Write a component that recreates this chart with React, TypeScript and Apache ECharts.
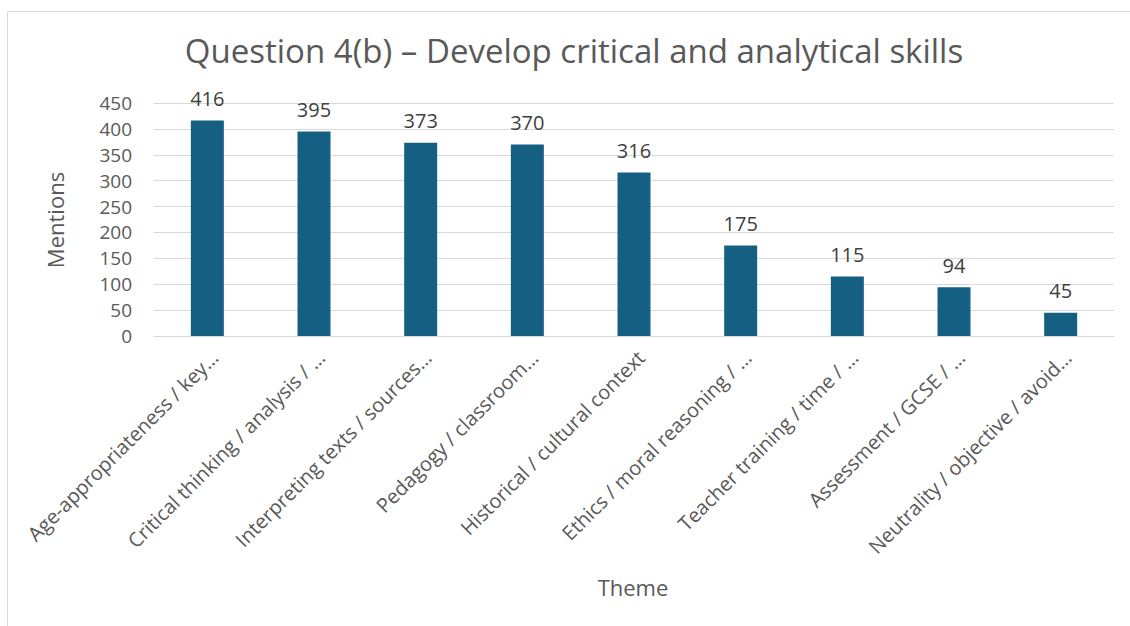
import React, { useEffect, useRef } from "react";
import * as echarts from "echarts";

const categories = [
  "Age-appropriateness / key…",
  "Critical thinking / analysis / …",
  "Interpreting texts / sources…",
  "Pedagogy / classroom…",
  "Historical / cultural context",
  "Ethics / moral reasoning / …",
  "Teacher training / time / …",
  "Assessment / GCSE / …",
  "Neutrality / objective / avoid…",
];
const mentions = [416, 395, 373, 370, 316, 175, 115, 94, 45];
const yTicks = { min: 0, max: 450, interval: 50 };
const titleText = "Question 4(b) – Develop critical and analytical skills";
const xName = "Theme";
const yName = "Mentions";

const FONT = "'Open Sans', 'Liberation Sans', sans-serif";

export default function App() {
  const ref = useRef<HTMLDivElement>(null);
  useEffect(() => {
    if (!ref.current) return;
    const chart = echarts.init(ref.current, null, { renderer: "svg" });
    chart.setOption({
      animation: false,
      backgroundColor: "#ffffff",
      textStyle: { fontFamily: FONT },
      graphic: [
        {
          type: "rect",
          shape: { x: 7.5, y: 11.5, width: 1200, height: 700 },
          style: { fill: "none", stroke: "#d9d9d9", lineWidth: 1 },
          silent: true,
        },
        {
          type: "text",
          x: 574,
          y: 50,
          style: {
            text: titleText,
            fontSize: 33,
            fontFamily: FONT,
            fill: "#595959",
            align: "center",
            verticalAlign: "middle",
          },
        },
        {
          type: "text",
          x: 633,
          y: 587,
          style: {
            text: xName,
            fontSize: 22,
            fontFamily: FONT,
            fill: "#595959",
            align: "center",
            verticalAlign: "middle",
          },
        },
        {
          type: "text",
          x: 55,
          y: 220,
          rotation: Math.PI / 2,
          style: {
            text: yName,
            fontSize: 22,
            fontFamily: FONT,
            fill: "#595959",
            align: "center",
            verticalAlign: "middle",
          },
        },
      ],
      grid: { left: 154, right: 16, top: 103, bottom: 290, containLabel: false },
      xAxis: {
        type: "category",
        data: categories,
        axisLine: { show: true, lineStyle: { color: "#d9d9d9", width: 1 } },
        axisTick: { show: false },
        axisLabel: {
          rotate: 45,
          interval: 0,
          margin: 11,
          fontSize: 20,
          verticalAlign: "top",
          color: "#595959",
          fontFamily: FONT,
        },
      },
      yAxis: {
        type: "value",
        min: yTicks.min,
        max: yTicks.max,
        interval: yTicks.interval,
        axisLine: { show: false },
        axisTick: { show: false },
        splitLine: { lineStyle: { color: "#d9d9d9", width: 1 } },
        axisLabel: {
          fontSize: 19,
          color: "#595959",
          margin: 22,
          fontFamily: FONT,
        },
      },
      series: [
        {
          type: "bar",
          data: mentions,
          barWidth: 33,
          itemStyle: { color: "#156082" },
          label: {
            show: true,
            position: "top",
            distance: 12,
            fontSize: 20,
            color: "#404040",
            fontFamily: FONT,
          },
        },
      ],
    });
    return () => chart.dispose();
  }, []);
  return (
    <div
      ref={ref}
      style={{ position: "fixed", left: 0, top: 0, width: 1130, height: 626 }}
    />
  );
}
